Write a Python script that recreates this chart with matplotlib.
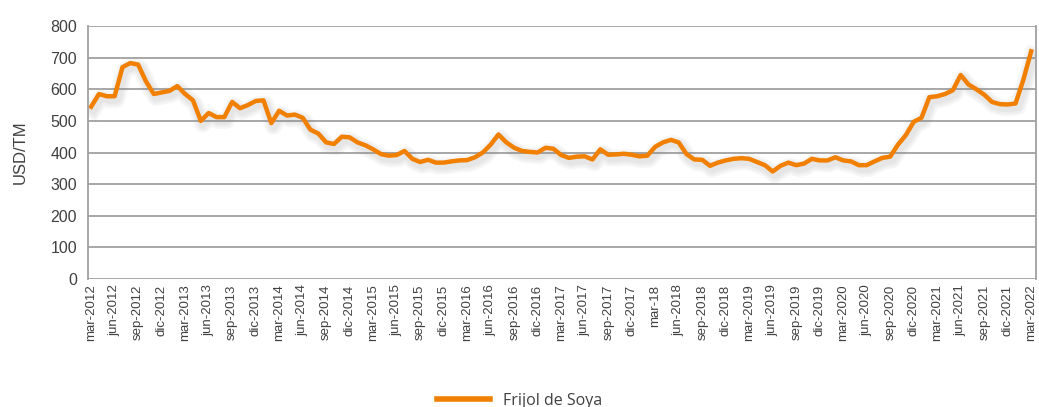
import matplotlib
matplotlib.use("Agg")
import matplotlib.pyplot as plt
import matplotlib.patheffects as pe
import numpy as np

# Monthly price, mar-2012 .. mar-2022 (USD/TM)
prices = [
    545, 585, 578, 578, 670, 683, 678, 625, 585, 590,   # mar12 - dic12
    595, 610, 585, 565, 500, 525, 512, 512, 560, 540, 550, 563,   # 2013
    565, 493, 532, 517, 520, 510, 472, 460, 432, 427, 450, 448,   # 2014
    432, 423, 410, 395, 390, 392, 405, 380, 370, 377, 368, 368,   # 2015
    372, 375, 376, 385, 400, 425, 457, 432, 415, 405, 402, 400,   # 2016
    415, 412, 392, 383, 387, 388, 378, 410, 393, 394, 396, 393,   # 2017
    388, 390, 418, 432, 440, 432, 395, 378, 377, 358, 368, 375,   # 2018
    380, 382, 380, 370, 360, 340, 358, 368, 360, 365, 380, 375,   # 2019
    375, 385, 375, 372, 360, 360, 372, 383, 387, 425, 455, 497,   # 2020
    510, 575, 578, 585, 597, 645, 615, 600, 583, 560, 553, 552,   # 2021
    555, 630, 720,                                                # 2022
]

tick_labels = [
    "mar-2012", "jun-2012", "sep-2012", "dic-2012",
    "mar-2013", "jun-2013", "sep-2013", "dic-2013",
    "mar-2014", "jun-2014", "sep-2014", "dic-2014",
    "mar-2015", "jun-2015", "sep-2015", "dic-2015",
    "mar-2016", "jun-2016", "sep-2016", "dic-2016",
    "mar-2017", "jun-2017", "sep-2017", "dic-2017",
    "mar-18", "jun-2018", "sep-2018", "dic-2018",
    "mar-2019", "jun-2019", "sep-2019", "dic-2019",
    "mar-2020", "jun-2020", "sep-2020", "dic-2020",
    "mar-2021", "jun-2021", "sep-2021", "dic-2021",
    "mar-2022",
]

series_name = "Frijol de Soya"

fig = plt.figure(figsize=(10.39, 4.07), dpi=100)
ax = fig.add_axes([0.0847, 0.3145, 0.9123, 0.6215])

x = np.arange(len(prices))
# soft drop shadow like the Excel original
shadow = [pe.SimpleLineShadow(offset=(1.5, -2.5), shadow_color="#888888",
                              alpha=0.07, linewidth=w) for w in (12, 9, 6)]
ax.plot(x, prices, color="#F28000", linewidth=3.2, solid_joinstyle="round",
        label=series_name, path_effects=shadow + [pe.Normal()])

ax.set_ylim(0, 800)
ax.set_xlim(-0.4, 120.6)
ax.set_yticks(range(0, 801, 100))
ax.yaxis.grid(True, color="#A0A0A0", linewidth=1.3)
ax.set_axisbelow(True)

ax.set_xticks(range(0, 121, 3))
ax.set_xticklabels(tick_labels, rotation=90, fontsize=9.5, color="#404040",
                   family="Liberation Sans")
for lab in ax.get_yticklabels():
    lab.set_family("Liberation Sans")
ax.tick_params(axis="y", labelsize=11.5, labelcolor="#404040", length=0, pad=8)
ax.tick_params(axis="x", length=0, pad=4)

ax.set_ylabel("USD/TM", fontsize=12, color="#404040", family="Liberation Sans", labelpad=16)

for side in ["top", "bottom"]:
    ax.spines[side].set_visible(False)
ax.spines["left"].set_color("#A0A0A0")
ax.spines["left"].set_linewidth(1.3)
ax.spines["right"].set_color("#A0A0A0")
ax.spines["right"].set_linewidth(1.3)

leg = fig.legend(loc="center", bbox_to_anchor=(0.5, 0.015), frameon=False,
                 handlelength=3.3, prop={"family": "Open Sans", "size": 11.5})
for t in leg.get_texts():
    t.set_color("#404040")
for h in leg.get_lines():
    h.set_linewidth(4)
    h.set_path_effects([])

fig.savefig("out.png", dpi=100)
